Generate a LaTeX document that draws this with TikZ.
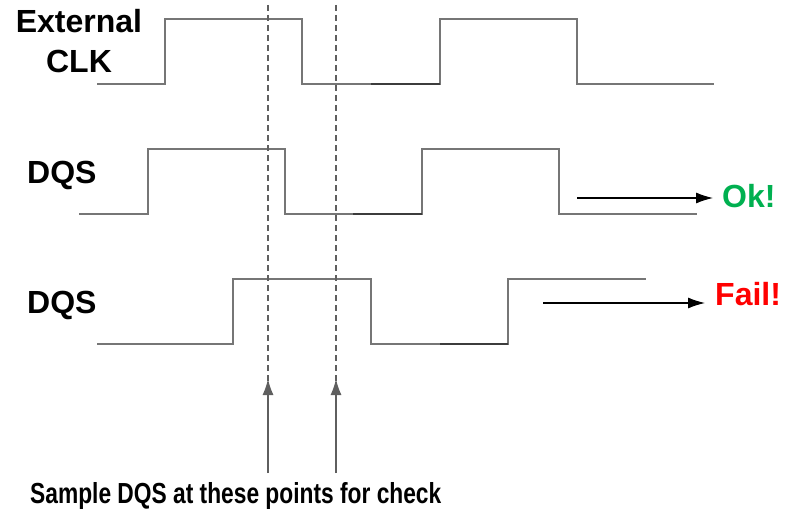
\documentclass[tikz,border=0pt]{standalone}
\usepackage{fontspec}
\setmainfont{Liberation Sans}
\usetikzlibrary{arrows.meta}

\definecolor{wavegray}{RGB}{118,118,118}
\definecolor{wavedark}{RGB}{60,60,60}
\definecolor{guidegray}{RGB}{95,95,95}
\definecolor{okgreen}{RGB}{0,176,80}
\definecolor{failred}{RGB}{255,0,0}

\tikzset{
  wave/.style={draw=wavegray, line width=1.5pt, line join=miter},
  darkseg/.style={draw=wavedark, line width=1.5pt},
  guide/.style={draw=guidegray, line width=1.2pt, dash pattern=on 6pt off 4pt},
  probe/.style={draw=guidegray, line width=1.3pt, -{Latex[length=16pt,width=11pt]}},
  result/.style={draw=black, line width=1.1pt, -{Latex[length=17pt,width=11pt]}},
  lbl/.style={font=\fontsize{32}{36}\selectfont\bfseries, inner sep=0pt},
}

\begin{document}
\begin{tikzpicture}[x=1pt, y=-1pt]
\useasboundingbox (0,0) rectangle (785,519);

% signal names
\node[lbl, anchor=base] (extlbl) at (79,33) {External};
\node[lbl, anchor=base] (clklbl) at (79,73) {CLK};
\node[lbl, anchor=base west] (dqsa) at (27,183) {DQS};
\node[lbl, anchor=base west] (dqsb) at (27,313) {DQS};

% external clock
\draw[wave] (97,84) -- (165,84) -- (165,19) -- (302,19) -- (302,84) -- (440,84)
  -- (440,19) -- (577,19) -- (577,84) -- (714,84);
\draw[darkseg] (371,84) -- (440,84);

% DQS arriving in time
\draw[wave] (79,214) -- (148,214) -- (148,149) -- (285,149) -- (285,214) -- (422,214)
  -- (422,149) -- (559,149) -- (559,214) -- (697,214);
\draw[darkseg] (353,214) -- (422,214);

% DQS arriving late
\draw[wave] (97,344) -- (233,344) -- (233,279) -- (371,279) -- (371,344) -- (508,344)
  -- (508,279) -- (646,279);
\draw[darkseg] (440,344) -- (508,344);

% sampling instants
\coordinate (g1top) at (268,5);
\coordinate (g1bot) at (268,385);
\coordinate (g2top) at (336,5);
\coordinate (g2bot) at (336,385);
\draw[guide] (g1top) -- (g1bot);
\draw[guide] (g2top) -- (g2bot);

\coordinate (p1from) at (268,473);
\coordinate (p1to) at (268,379);
\coordinate (p2from) at (336,473);
\coordinate (p2to) at (336,379);
\draw[probe] (p1from) -- (p1to);
\draw[probe] (p2from) -- (p2to);

% outcomes
\node[lbl, anchor=base west, text=okgreen] (ok) at (722,207) {Ok!};
\node[lbl, anchor=base west, text=failred] (fail) at (715,305) {Fail!};
\coordinate (okfrom) at (577,198);
\coordinate (failfrom) at (543,303);
\draw[result] (okfrom) -- ([xshift=-9pt]okfrom -| ok.west);
\draw[result] (failfrom) -- ([xshift=-10pt]failfrom -| fail.west);

% caption
\node[anchor=base west, inner sep=0pt, font=\fontsize{29}{33}\selectfont\bfseries] (caption)
  at (30,503) {\scalebox{0.785}[1]{Sample DQS at these points for check}};
\end{tikzpicture}
\end{document}
